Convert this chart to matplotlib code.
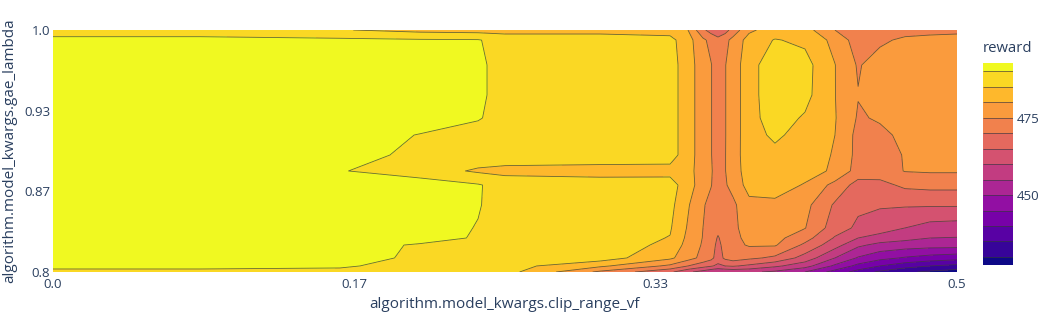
# Contour plot of reward vs. clip_range_vf and gae_lambda

import matplotlib.pyplot as plt
import numpy as np

plt.rcParams['font.family'] = ['Open Sans', 'DejaVu Sans']

#### data ####

clip_range_vf = [0.0, 0.0813, 0.1587, 0.2030, 0.2351, 0.2500, 0.3025, 0.3413,
                 0.3512, 0.3595, 0.3640, 0.3678, 0.3717, 0.3761, 0.3850, 0.3993,
                 0.4159, 0.4325, 0.4453, 0.4574, 0.4712, 0.4851, 0.5]

gae_lambda = [1.0, 0.9917, 0.9711, 0.9463, 0.9273, 0.9132, 0.8967, 0.8835,
              0.8719, 0.8554, 0.8364, 0.8281, 0.8223, 0.8116, 0.8050, 0.8]

# one row per gae_lambda value, one column per clip_range_vf value
reward = [
    [488, 488, 485.3, 483.5, 483, 483, 483, 483, 480, 471, 468, 466.5, 468, 472, 479, 482.5, 482, 475, 471.5, 472, 473, 473.5, 474],
    [491, 491, 491, 490.5, 490.3, 488, 488, 486.5, 482, 476, 473.5, 471.5, 473.5, 476.5, 482, 485.3, 484, 478.5, 472.5, 474, 476, 476.5, 476.5],
    [492.5, 492.5, 492.5, 492.5, 491, 488, 488, 487, 482.5, 477, 475.2, 472.5, 474.8, 477, 483.5, 487.5, 486.8, 480.1, 474.5, 477.5, 478, 478, 478],
    [492.5, 492.5, 492.5, 492.5, 491, 488, 488, 487, 482.5, 477, 475.2, 472.5, 474.8, 477, 483.5, 487.5, 486.5, 480.1, 475.2, 477.5, 478, 478, 478],
    [492.5, 492.5, 492.5, 492.5, 490.4, 488, 488, 487, 482.5, 477, 475.2, 472.5, 474.8, 477, 483.5, 487, 484.5, 480.3, 474.5, 475.5, 477, 478, 478],
    [492.5, 492.5, 492.5, 489.8, 488, 488, 488, 487, 482.5, 477, 475.2, 472.5, 474.8, 477, 483.5, 485.7, 483.5, 480, 473.5, 474, 476, 477.8, 477.8],
    [492.5, 492.5, 492, 488.8, 488, 488, 488, 487, 482.5, 477, 475.2, 472.5, 474.8, 477.5, 483, 484, 483, 479.5, 473.5, 473, 475.3, 477.5, 477.5],
    [492.5, 492.5, 490.3, 487.5, 484.3, 483.5, 483, 483.5, 482, 477, 475.5, 472.5, 474.8, 477.5, 482.5, 484.5, 482.5, 479, 473, 472.5, 475.2, 475.5, 475.5],
    [492.5, 492.5, 492.5, 492.5, 490.4, 488, 487.5, 487, 482.5, 477, 475.2, 472.5, 474.5, 476.5, 482, 483, 479.5, 473.5, 468, 468.5, 471, 471.5, 471.5],
    [492.5, 492.5, 492.5, 492.5, 490.3, 488, 487.5, 486.5, 480.5, 475.5, 473.5, 472, 473, 474, 478.5, 478.5, 476.5, 469.3, 466, 465.5, 465.5, 465.5, 465.5],
    [492.5, 492.5, 492.5, 492, 489.8, 488, 487.5, 485.5, 479.5, 475, 473, 471.5, 472.5, 473.5, 478, 477.5, 475.2, 467.5, 464, 462.5, 460, 458, 457.5],
    [492.5, 492.5, 492.5, 492, 489.5, 488, 487.5, 484.8, 478.8, 474.8, 472.8, 469.5, 472.3, 473.5, 476.5, 476.5, 472, 464.5, 460, 458, 456.5, 455, 454.8],
    [492.5, 492.5, 492, 489.5, 488.5, 488, 487.5, 484, 478, 474.5, 472.5, 468.5, 472, 473.5, 475.5, 475.5, 469, 462, 456, 453.5, 452.5, 452, 452],
    [492, 492, 491.5, 489.3, 488.5, 488, 487.5, 481, 477, 473.5, 471.5, 467.5, 471, 472.5, 471, 469, 463, 455, 449.5, 446.5, 444.5, 443, 442],
    [491, 491, 490.5, 488.5, 487.5, 487, 481, 474, 470, 467, 465.5, 464, 465, 465.5, 464, 461, 457, 449, 443.5, 440, 437, 435, 433.5],
    [489, 489, 489, 488, 487, 487, 474, 466, 461, 458, 456, 455, 455.5, 456, 456, 454, 450, 443, 438, 434, 431, 429, 427.5],
]

reward_min, reward_max = 427.4, 492.7
line_levels = list(range(430, 491, 5))

x_ticks = [0.0, 1 / 6, 1 / 3, 0.5]
x_ticklabels = ['0.0', '0.17', '0.33', '0.5']
y_ticks = [0.8, 0.8 + 0.2 / 3, 0.8 + 0.4 / 3, 1.0]
y_ticklabels = ['0.8', '0.87', '0.93', '1.0']

#### plotting ####

text_color = '#2a3f5f'
fig = plt.figure(figsize=(10.45, 3.14), dpi=100)
ax = fig.add_axes([53 / 1045, 1 - 272 / 314, 904 / 1045, 242 / 314])

fill_levels = [reward_min] + line_levels + [reward_max]
band_colors = plt.cm.plasma(np.linspace(0, 1, len(fill_levels) - 1))

X, Y = np.meshgrid(clip_range_vf, gae_lambda)
Z = np.array(reward)
cf = ax.contourf(X, Y, Z, levels=fill_levels, colors=band_colors)
cl = ax.contour(X, Y, Z, levels=line_levels, colors='#3a3a3a', linewidths=0.6, alpha=0.75)

ax.set_xlim(0, 0.5)
ax.set_ylim(0.8, 1.0)
for s in ax.spines.values():
    s.set_visible(False)

ax.set_xticks(x_ticks)
ax.set_xticklabels(x_ticklabels)
ax.set_yticks(y_ticks)
ax.set_yticklabels(y_ticklabels)
ax.tick_params(length=0, labelsize=9.5, colors=text_color)
ax.tick_params(axis='x', pad=4)
ax.tick_params(axis='y', pad=2)

ax.set_xlabel('algorithm.model_kwargs.clip_range_vf', fontsize=11, color=text_color, va='center')
ax.xaxis.set_label_coords(0.5, -(305 - 272) / 242)
ax.set_ylabel('algorithm.model_kwargs.gae_lambda', fontsize=11, color=text_color, va='center')
ax.yaxis.set_label_coords(-(53 - 10) / 904, 0.5)

# colorbar
cax = fig.add_axes([983 / 1045, 1 - 265 / 314, 30 / 1045, 202 / 314])
cbar = fig.colorbar(cf, cax=cax, spacing='proportional')
cbar.add_lines(cl)
cbar.outline.set_visible(False)
cbar.set_ticks([450, 475])
cbar.ax.tick_params(length=0, labelsize=9.6, colors=text_color, pad=3)
fig.text(983 / 1045, 1 - 48 / 314, 'reward', ha='left', va='center',
         fontsize=10.7, color=text_color)

fig.savefig('out.png', dpi=100)
